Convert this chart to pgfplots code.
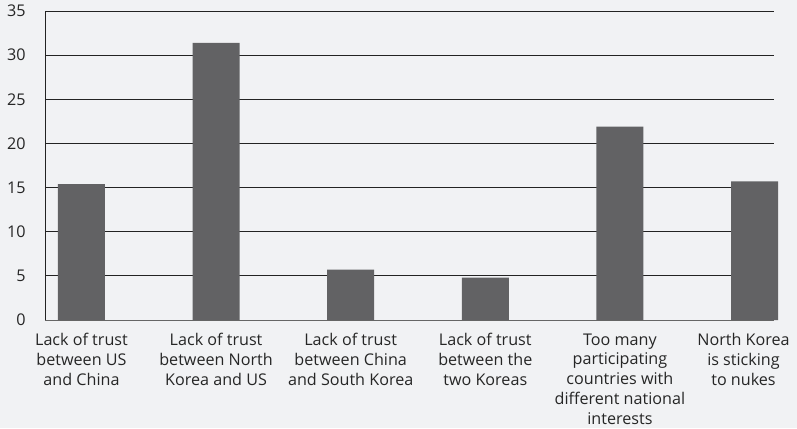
\documentclass[border=0pt]{standalone}
\usepackage{fontspec}
\setmainfont{Open Sans}
\usepackage{pgfplots}
\pgfplotsset{compat=1.18}
\definecolor{bg}{HTML}{F1F2F4}
\definecolor{barc}{HTML}{626264}
\definecolor{gridc}{HTML}{232323}
\definecolor{textc}{HTML}{262626}
\begin{document}
\begin{tikzpicture}[x=1bp,y=1bp]
\fill[bg] (0,0) rectangle (797,428);
\begin{axis}[
  at={(45bp,108bp)}, anchor=south west,
  scale only axis, width=729bp, height=309bp,
  xmin=-0.271, xmax=5.145, ymin=0, ymax=35,
  ytick={0,5,...,35}, xtick={0,...,4},
  xticklabels={{Lack of trust\\between US\\and China},
               {Lack of trust\\between North\\Korea and US},
               {Lack of trust\\between China\\and South Korea},
               {Lack of trust\\between the\\two Koreas},
               {Too many\\participating\\countries with\\different national\\interests}},
  extra x ticks={5},
  extra x tick labels={{North Korea\\is sticking\\to nukes}},
  extra x tick style={grid=none, xticklabel style={xshift=-11bp}},
  /pgf/number format/assume math mode=true,
  ymajorgrids, grid style={color=gridc, line width=0.9pt},
  axis lines=left, axis line style={-},
  x axis line style={color=black!60, line width=0.9pt},
  y axis line style={color=gridc, line width=0.9pt},
  major tick length=0pt,
  tick label style={font=\fontsize{16.2}{20}\selectfont, color=textc},
  xticklabel style={align=center, yshift=-10bp},
  yticklabel style={xshift=-16bp},
  ybar, bar width=47bp,
  clip=false,
]
\addplot[fill=barc, draw=none] coordinates {(0,15.4) (1,31.4) (2,5.7) (3,4.8) (4,21.9) (5,15.7)};
\end{axis}
\pgfresetboundingbox
\useasboundingbox (0,0) rectangle (797,428);
\end{tikzpicture}
\end{document}
